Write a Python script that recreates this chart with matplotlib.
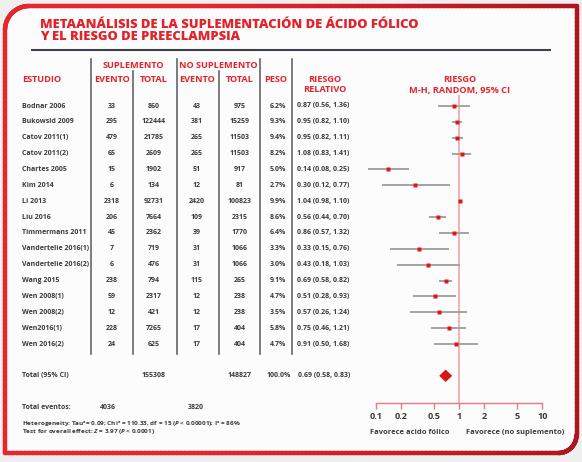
import numpy as np
import matplotlib
matplotlib.use('Agg')
import matplotlib.pyplot as plt
from matplotlib.collections import LineCollection
from matplotlib.patches import Polygon

plt.rcParams['font.family'] = ['Open Sans', 'DejaVu Sans']
plt.rcParams['mathtext.fontset'] = 'custom'
plt.rcParams['mathtext.rm'] = 'Open Sans:bold'
plt.rcParams['mathtext.it'] = 'Open Sans:italic:bold'
plt.rcParams['mathtext.bf'] = 'Open Sans:bold'

# ---------------- data ----------------
title_lines = ["METAANÁLISIS DE LA SUPLEMENTACIÓN DE ÁCIDO FÓLICO",
               "Y EL RIESGO DE PREECLAMPSIA"]
studies = ["Bodnar 2006", "Bukowsld 2009", "Catov 2011(1)", "Catov 2011(2)",
           "Chartes 2005", "Kim 2014", "Li 2013", "Liu 2016", "Timmermans 2011",
           "Vandertelie 2016(1)", "Vandertelie 2016(2)", "Wang 2015",
           "Wen 2008(1)", "Wen 2008(2)", "Wen2016(1)", "Wen 2016(2)"]
sup_events = [33, 295, 479, 65, 15, 6, 2318, 206, 45, 7, 6, 238, 59, 12, 228, 24]
sup_total = [860, 122444, 21785, 2609, 1902, 134, 92731, 7664, 2362, 719, 476,
             794, 2317, 421, 7265, 625]
nosup_events = [43, 381, 265, 265, 51, 12, 2420, 109, 39, 31, 31, 115, 12, 12, 17, 17]
nosup_total = [975, 15259, 11503, 11503, 917, 81, 100823, 2315, 1770, 1066, 1066,
               265, 238, 238, 404, 404]
weights = [6.2, 9.3, 9.4, 8.2, 5.0, 2.7, 9.9, 8.6, 6.4, 3.3, 3.0, 9.1, 4.7, 3.5, 5.8, 4.7]
rr = [0.87, 0.95, 0.95, 1.08, 0.14, 0.30, 1.04, 0.56, 0.86, 0.33, 0.43, 0.69,
      0.51, 0.57, 0.75, 0.91]
rr_lo = [0.56, 0.82, 0.82, 0.83, 0.08, 0.12, 0.98, 0.44, 0.57, 0.15, 0.18, 0.58,
         0.28, 0.26, 0.46, 0.50]
rr_hi = [1.36, 1.10, 1.11, 1.41, 0.25, 0.77, 1.10, 0.70, 1.32, 0.76, 1.03, 0.82,
         0.93, 1.24, 1.21, 1.68]
total_sup = 155308
total_nosup = 148827
total_weight = 100.0
total_rr, total_lo, total_hi = 0.69, 0.58, 0.83
events_sup_total = 4036
events_nosup_total = 3820
axis_ticks = [0.1, 0.2, 0.5, 1, 2, 5, 10]
axis_ticklabels = ["0.1", "0.2", "0.5", "1", "2", "5", "10"]
heterogeneity = r"Heterogeneity: Tau²= 0.09; Chi² = 110.33, df = 15 ($P$ < 0.00001); I² = 86%"
overall = r"Test for overall effect: $Z$ = 3.97 ($P$ < 0.0001)"
fav_left = "Favorece acido fólico"
fav_right = "Favorece (no suplemento)"

# ---------------- style ----------------
RED = '#e3222a'
DARK = '#3a3a3a'
W, H = 582, 462
row0, dy = 106.0, 15.87

def row_y(i):
    return row0 + dy * i

fig = plt.figure(figsize=(W / 100, H / 100), dpi=100)
fig.patch.set_facecolor('#efefef')
bg = fig.add_axes([0, 0, 1, 1])
bg.set_xlim(0, W)
bg.set_ylim(H, 0)
bg.axis('off')

# frame
x0, y0, x1, y1, r1, r2 = 5, 6, 576.5, 453, 24, 18
pts = [(x0, y1)]
for a in np.linspace(np.pi, 1.5 * np.pi, 30):
    pts.append((x0 + r1 + r1 * np.cos(a), y0 + r1 + r1 * np.sin(a)))
pts.append((x1, y0))
for a in np.linspace(0, 0.5 * np.pi, 30):
    pts.append((x1 - r2 + r2 * np.cos(a), y1 - r2 + r2 * np.sin(a)))
pts.append((x0, y1))
bg.add_patch(Polygon(pts, closed=True, facecolor='#fcfcfc', edgecolor='none', zorder=0))
dense = []
for (ax_, ay_), (bx_, by_) in zip(pts[:-1], pts[1:]):
    n = max(2, int(np.hypot(bx_ - ax_, by_ - ay_) / 4))
    for t in np.linspace(0, 1, n, endpoint=False):
        dense.append((ax_ + (bx_ - ax_) * t, ay_ + (by_ - ay_) * t))
dense.append(pts[-1])
dense = np.array(dense)
segs = np.stack([dense[:-1], dense[1:]], axis=1)
c1 = np.array(matplotlib.colors.to_rgb('#e7262c'))
c2 = np.array(matplotlib.colors.to_rgb('#b0151d'))
tt = np.clip((segs[:, :, 0].mean(axis=1) - 200) / 370, 0, 1)[:, None]
cols = c1 * (1 - tt) + c2 * tt
bg.add_collection(LineCollection(segs, colors=cols, linewidths=3.2, capstyle='round', zorder=5))

# title
for k, line in enumerate(title_lines):
    bg.text(40, 25.5 + 12 * k, line, color=RED, fontsize=9.4, fontweight='heavy',
            ha='left', va='center')
bg.plot([31, 551], [49.5, 49.5], color='#3d414c', lw=1.5, solid_capstyle='butt')

# column structure
vx_main = [90.7, 176.5, 260, 291.7]
vx_sub = [132.8, 219.3]
for x in vx_main:
    bg.plot([x, x], [59, 354], color='#55585f', lw=1.1)
for x in vx_sub:
    bg.plot([x, x], [71, 354], color='#55585f', lw=1.1)

hfs = 6.6
bg.text(133.5, 65, "SUPLEMENTO", color=RED, fontsize=hfs, fontweight='bold', ha='center', va='center')
bg.text(218, 65, "NO SUPLEMENTO", color=RED, fontsize=hfs, fontweight='bold', ha='center', va='center')
bg.text(22, 80, "ESTUDIO", color=RED, fontsize=hfs, fontweight='bold', ha='left', va='center')
cx = [112, 154, 197, 240]
for x, lab in zip(cx, ["EVENTO", "TOTAL", "EVENTO", "TOTAL"]):
    bg.text(x, 80, lab, color=RED, fontsize=hfs, fontweight='bold', ha='center', va='center')
bg.text(276, 80, "PESO", color=RED, fontsize=hfs, fontweight='bold', ha='center', va='center')
bg.text(325, 80, "RIESGO", color=RED, fontsize=hfs, fontweight='bold', ha='center', va='center')
bg.text(325, 90, "RELATIVO", color=RED, fontsize=hfs, fontweight='bold', ha='center', va='center')
bg.text(460, 80, "RIESGO", color=RED, fontsize=hfs, fontweight='bold', ha='center', va='center')
bg.text(460, 90, "M-H, RANDOM, 95% CI", color=RED, fontsize=hfs, fontweight='bold', ha='center', va='center')

bfs = 5.05
for i, s in enumerate(studies):
    y = row_y(i)
    bg.text(22, y, s, color=DARK, fontsize=bfs, fontweight='bold', ha='left', va='center')
    for x, v in zip(cx, [sup_events[i], sup_total[i], nosup_events[i], nosup_total[i]]):
        bg.text(x, y, str(v), color=DARK, fontsize=bfs, fontweight='bold', ha='center', va='center')
    bg.text(286.5, y, f"{weights[i]:.1f}%", color=DARK, fontsize=bfs, fontweight='bold', ha='right', va='center')
    bg.text(297, y, f"{rr[i]:.2f} ({rr_lo[i]:.2f}, {rr_hi[i]:.2f})", color=DARK, fontsize=bfs,
            fontweight='bold', ha='left', va='center')

yt = row_y(17)
bg.text(22, yt, "Total (95% CI)", color=DARK, fontsize=bfs, fontweight='bold', ha='left', va='center')
bg.text(154, yt, str(total_sup), color=DARK, fontsize=bfs, fontweight='bold', ha='center', va='center')
bg.text(240, yt, str(total_nosup), color=DARK, fontsize=bfs, fontweight='bold', ha='center', va='center')
bg.text(291, yt, f"{total_weight:.1f}%", color=DARK, fontsize=bfs, fontweight='bold', ha='right', va='center')
bg.text(298, yt, f"{total_rr:.2f} ({total_lo:.2f}, {total_hi:.2f})", color=DARK, fontsize=bfs,
        fontweight='bold', ha='left', va='center')

ye = row_y(19)
bg.text(22, ye, "Total eventos:", color=DARK, fontsize=bfs, fontweight='bold', ha='left', va='center')
bg.text(108, ye, str(events_sup_total), color=DARK, fontsize=bfs, fontweight='bold', ha='center', va='center')
bg.text(196, ye, str(events_nosup_total), color=DARK, fontsize=bfs, fontweight='bold', ha='center', va='center')
bg.text(22, 423.5, heterogeneity, color=DARK, fontsize=4.6, fontweight='bold', ha='left', va='center')
bg.text(22, 431.5, overall, color=DARK, fontsize=4.6, fontweight='bold', ha='left', va='center')

bg.text(370, 433, fav_left, color=DARK, fontsize=5.4, fontweight='bold', ha='left', va='center')
bg.text(466, 433, fav_right, color=DARK, fontsize=5.4, fontweight='bold', ha='left', va='center')

# ---------------- forest plot ----------------
fx0, fx1 = 375.7, 542.3
fy_top, fy_bot = 95.0, 403.3
fa = fig.add_axes([fx0 / W, 1 - fy_bot / H, (fx1 - fx0) / W, (fy_bot - fy_top) / H])
fa.set_xscale('log')
fa.set_xlim(0.1, 10)
fa.set_ylim(fy_bot, fy_top)
fa.patch.set_alpha(0)
for sp in ['top', 'left', 'right']:
    fa.spines[sp].set_visible(False)
fa.spines['bottom'].set_color('#e77a7e')
fa.spines['bottom'].set_linewidth(1.0)
fa.set_yticks([])
fa.set_xticks(axis_ticks)
fa.set_xticklabels(axis_ticklabels)
fa.xaxis.set_minor_locator(matplotlib.ticker.NullLocator())
fa.tick_params(axis='x', direction='out', length=4, width=1.0, color='#e77a7e',
               labelsize=6.6, labelcolor=DARK, pad=2.5)
for lab in fa.get_xticklabels():
    lab.set_fontweight('bold')

fa.axvline(1, color='#f2a5a8', lw=1.2, zorder=1)
for i in range(len(studies)):
    y = row_y(i)
    fa.plot([rr_lo[i], rr_hi[i]], [y, y], color='#a3a3a6', lw=1.4, clip_on=False, zorder=2,
            solid_capstyle='butt')
    fa.plot([rr[i]], [y], marker='s', ms=3.0, color='#e0161c', mec='none', zorder=3, clip_on=False)

dh = 6.2
fa.add_patch(Polygon([(total_lo, yt), (total_rr, yt - dh), (total_hi, yt), (total_rr, yt + dh)],
                     closed=True, facecolor='#d9161c', edgecolor='none', zorder=3))

fig.savefig('out.png', dpi=100, facecolor=fig.get_facecolor())
